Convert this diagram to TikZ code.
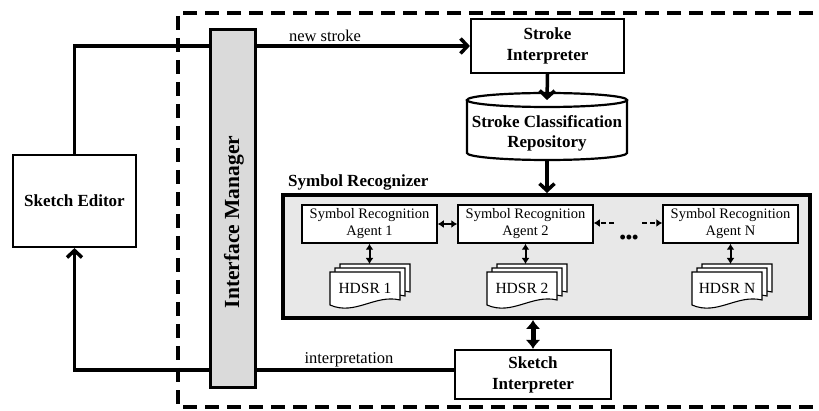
\documentclass[tikz,border=0pt]{standalone}
\usepackage{fontspec}
\setmainfont{Liberation Serif}
\usetikzlibrary{arrows.meta}
\definecolor{imgray}{HTML}{DADADA}
\definecolor{srgray}{HTML}{E8E8E8}
\newcommand\hdsrdoc[4]{%
  \foreach \o in {10,5,0}{%
    \pgfmathsetmacro\L{#2+\o}\pgfmathsetmacro\T{272-0.8*\o}%
    \draw[line width=1.1pt, fill=white, line join=miter]
      (\L,\T) -- (\L+70,\T) -- (\L+70,\T+28)
      .. controls (\L+45,\T+22) and (\L+25,\T+44) .. (\L,\T+33) -- cycle;
  }
  \node[docfont] (#1) at (#2+35,288) {#3};
  \coordinate (#1t) at (#4,264);
}
\begin{document}
\begin{tikzpicture}[x=1pt,y=-1pt,
  bbox/.style={draw, line width=2.2pt, fill=white, align=center, inner sep=0pt,
    font=\fontsize{17}{21}\selectfont\bfseries},
  agent/.style={draw, line width=1.5pt, fill=white, align=center, inner sep=0pt,
    minimum width=135pt, minimum height=38pt, font=\fontsize{14.5}{17}\selectfont},
  docfont/.style={font=\fontsize{15.5}{18}\selectfont, inner sep=0pt},
  lab/.style={font=\fontsize{16.5}{19}\selectfont, inner sep=0pt},
  conn/.style={line width=3.5pt, -{Straight Barb[length=7pt,width=15pt]}},
  small2/.style={line width=2pt, {Latex[length=6pt,width=8pt]}-{Latex[length=6pt,width=8pt]}},
  dsh/.style={line width=2pt, dash pattern=on 5pt off 3pt, -{Latex[length=6pt,width=8pt]}},
  fat2/.style={line width=5pt, {Latex[length=9pt,width=15pt]}-{Latex[length=9pt,width=15pt]}},
]
\useasboundingbox (0,0) rectangle (819,411);

% outer dashed boundary
\draw[line width=4.5pt, dash pattern=on 14pt off 8pt] (835,13) -- (178,13) -- (178,407) -- (835,407);

% main boxes
\node[bbox, minimum width=123pt, minimum height=92pt] (se) at (74.5,201) {Sketch Editor};
\node[bbox, minimum width=153pt, minimum height=54pt] (sti) at (547.5,46) {Stroke\\Interpreter};
\node[bbox, minimum width=156pt, minimum height=49pt] (si) at (533,374.5) {Sketch\\Interpreter};

% cylinder
\draw[line width=2.2pt, fill=white] (467,100) -- (467,153)
  arc[start angle=180, end angle=360, x radius=80pt, y radius=7pt] -- (627,100);
\draw[line width=2.2pt, fill=white] (547,100) ellipse[x radius=80pt, y radius=7pt];
\node[font=\fontsize{17}{20}\selectfont\bfseries, align=center, inner sep=0pt] (cyl) at (547,133)
  {Stroke Classification\\Repository};
\coordinate (cyltop) at (547,100);
\coordinate (cylbot) at (547,160);

% symbol recognizer
\node[draw, line width=4pt, fill=srgray, minimum width=527pt, minimum height=123pt, inner sep=0pt]
  (sr) at (546.5,256.5) {};
\node[anchor=base west, inner sep=0pt, font=\fontsize{17}{20}\selectfont\bfseries] (srl) at (288,187)
  {Symbol Recognizer};

\node[agent] (a1) at (369.5,224) {Symbol Recognition\\Agent 1};
\node[agent] (a2) at (525.5,224) {Symbol Recognition\\Agent 2};
\node[agent] (an) at (730.5,224) {Symbol Recognition\\Agent N};

\hdsrdoc{h1}{330}{HDSR 1}{369.5}
\hdsrdoc{h2}{487}{HDSR 2}{525.5}
\hdsrdoc{hn}{692}{HDSR N}{730.5}

\draw[small2] (a1.south) -- (a1.south |- h1t);
\draw[small2] (a2.south) -- (a2.south |- h2t);
\draw[small2] (an.south) -- (an.south |- hnt);
\draw[small2] (a1.east) -- (a2.west);

\coordinate (dl) at (614,223);
\coordinate (dr) at (642,223);
\draw[dsh] (dl) -- (dl -| a2.east);
\draw[dsh] (dr) -- (dr -| an.west);
\node[inner sep=0pt, font=\fontsize{18}{18}\selectfont\bfseries] (dots) at (629,239)
  {\char"2022\char"2022\char"2022};

% connectors
\draw[conn] (se.north) |- (sti.west);
\draw[conn] ([yshift=4.5pt]si.west) -| (se.south);
\draw[conn] (sti.south) -- (cyltop);
\draw[conn] (cylbot) -- (cylbot |- sr.north);
\draw[fat2] (si.north) -- (si.north |- sr.south);

\node[lab] (ns) at (325,36) {new stroke};
\node[lab] (ip) at (349,360) {interpretation};

% interface manager on top
\node[draw, line width=3pt, fill=imgray, minimum width=45pt, minimum height=357pt, inner sep=0pt]
  (im) at (232.5,208.5) {};
\node[rotate=90, inner sep=0pt, font=\fontsize{21.5}{24}\selectfont\bfseries] (imt) at (234,222)
  {Interface Manager};
\end{tikzpicture}
\end{document}
